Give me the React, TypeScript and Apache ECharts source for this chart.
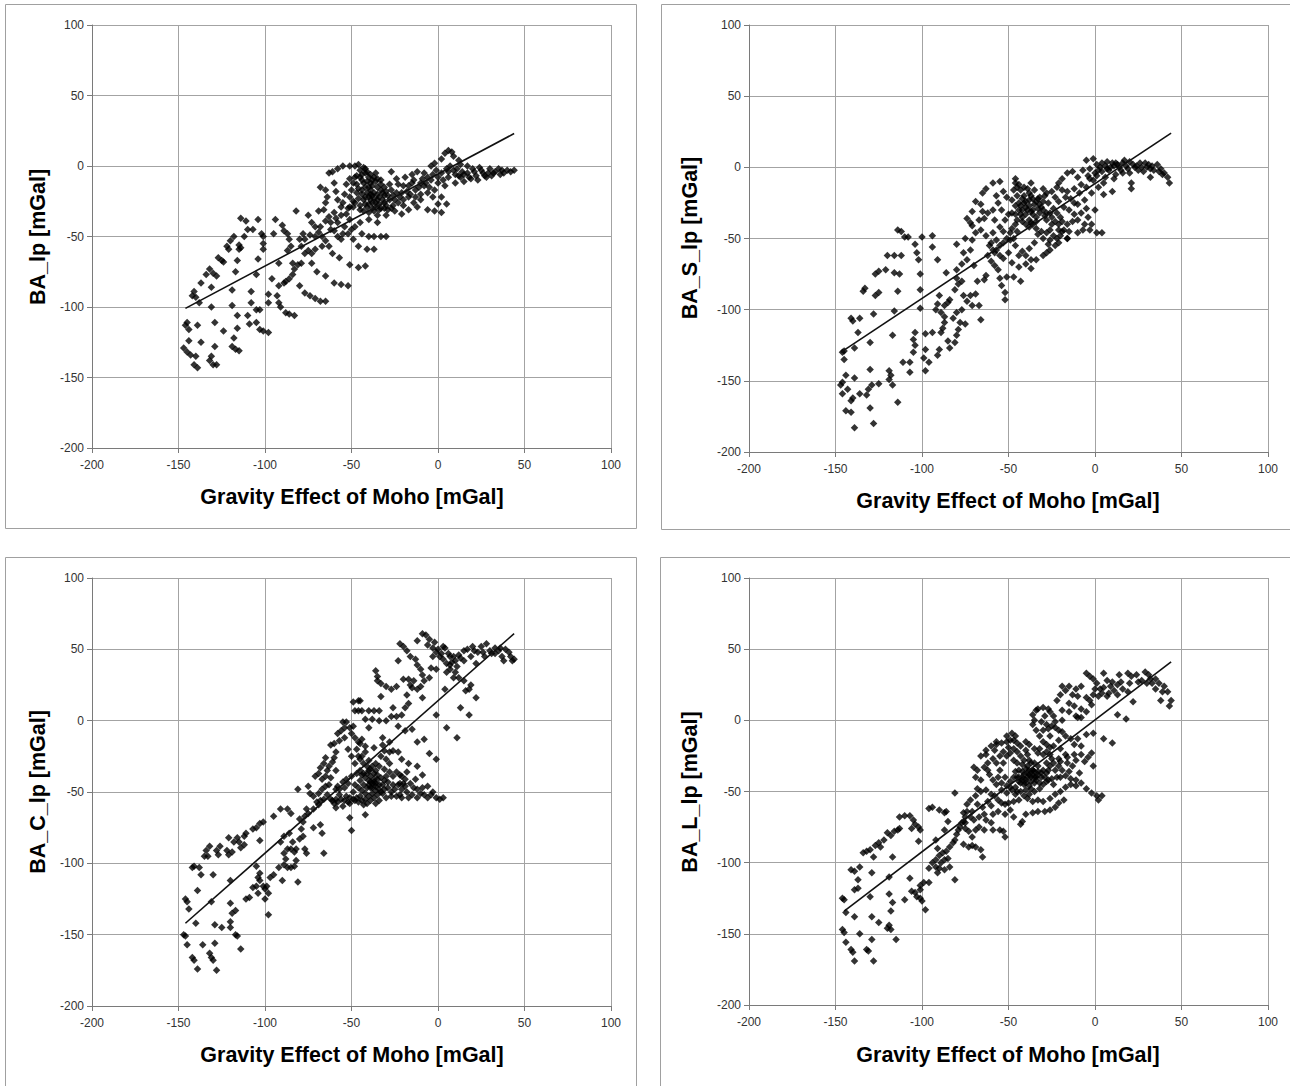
import React, { useEffect, useRef } from "react";
import * as echarts from "echarts";

const X_MIN = -200;
const X_MAX = 100;
const Y_MIN = -200;
const Y_MAX = 100;
const STEP = 50;

const xTitle = "Gravity Effect of Moho [mGal]";
const yTitles = ["BA_lp [mGal]", "BA_S_lp [mGal]", "BA_C_lp [mGal]", "BA_L_lp [mGal]"];

// Panel 1: BA_lp vs gravity effect of Moho
const baLp: number[][] = [
  [-145,-111],[-146,-113],[-144,-116],[-147,-129],[-145,-132],[-143,-134],[-141,-141],[-139,-143],[-140,-135],[-144,-124],[-137,-125],[-139,-113],[-131,-135],[-132,-138],[-130,-141],[-128,-141],[-129,-128],[-124,-117],[-129,-111],[-131,-100],[-138,-97],
  [-142,-92],[-141,-89],[-140,-93],[-137,-83],[-134,-77],[-132,-73],[-130,-76],[-128,-78],[-131,-86],[-127,-65],[-125,-67],[-124,-68],[-121,-59],[-120,-53],[-118,-50],[-122,-57],[-115,-56],[-114,-58],[-114,-37],[-111,-39],[-110,-45],[-112,-50],[-115,-59],[-116,-67],[-117,-75],[-119,-88],[-119,-99],[-116,-106],[-116,-115],[-118,-122],[-119,-128],[-117,-130],[-115,-131],
  [-104,-38],[-107,-45],[-102,-48],[-101,-50],[-101,-55],[-101,-59],[-104,-66],[-105,-77],[-108,-89],[-108,-97],[-105,-102],[-103,-102],[-105,-111],[-103,-116],[-101,-117],[-98,-118],[-110,-106],[-109,-112],
  [-98,-91],[-98,-97],[-96,-80],[-93,-92],[-92,-97],[-91,-100],[-88,-104],[-86,-105],[-83,-106],[-92,-85],[-89,-83],[-88,-82],[-86,-80],[-84,-77],[-83,-73],[-84,-69],[-81,-70],[-79,-69],[-80,-85],[-77,-90],[-74,-92],[-71,-94],[-68,-96],[-65,-96],[-94,-38],[-90,-42],[-89,-46],[-87,-48],[-86,-52],[-85,-57],[-87,-60],[-92,-69],[-95,-48],
  [-82,-32],[-78,-48],[-79,-57],[-77,-62],[-75,-60],[-73,-62],[-73,-69],[-70,-75],[-65,-78],[-60,-83],[-56,-84],[-52,-85],[-71,-59],[-67,-57],[-63,-57],[-61,-62],[-57,-65],[-51,-70],[-46,-72],[-42,-71],[-75,-35],[-73,-40],[-71,-43],[-69,-47],[-67,-50],[-65,-53],[-68,-15],[-65,-17],[-64,-22],[-65,-26],[-66,-31],[-69,-32],[-63,-5],[-61,-4],[-58,-2],[-55,0],[-51,0],[-48,0],[-60,-12],[-59,-18],[-58,-24],[-56,-29],[-53,-34],[-51,-38],[-48,-43],[-44,-48],[-40,-50],[-37,-50],[-33,-50],[-30,-50],[-46,-57],[-41,-59],[-37,-59],[-62,-40],[-59,-37],[-56,-35],[-51,-29],[-49,-25],
  [-80,-52],[-77,-52],[-74,-49],[-71,-50],[-68,-43],[-65,-39],[-63,-36],[-60,-33],[-58,-40],[-54,-43],[-62,-45],[-52,-48],[-49,-52],[-56,-52],
  [-46,1],[-45,-3],[-42,-5],[-40,-8],[-38,-10],[-44,-10],[-47,-13],[-42,-15],[-39,-17],[-37,-19],[-34,-22],[-32,-24],[-40,-22],[-43,-24],[-45,-28],[-41,-29],[-38,-26],[-36,-29],[-33,-30],[-30,-28],[-29,-31],[-37,-32],[-40,-33],[-47,-19],[-50,-17],[-48,-8],[-36,-5],[-33,-10],[-31,-15],[-35,-15],[-38,-14],[-41,-19],[-44,-17],[-46,-23],[-39,-24],[-35,-24],[-32,-19],[-29,-21],[-49,-29],[-51,-22],[-43,-32],[-35,-35],[-42,-2],[-39,-12],[-36,-11],[-44,-6],[-40,-27],[-34,-27],[-47,-7],[-38,-21],
  [-43,-1],[-41,-4],[-39,-6],[-37,-8],[-35,-9],[-45,-8],[-43,-12],[-41,-11],[-39,-20],[-37,-23],[-35,-20],[-33,-17],[-31,-21],[-36,-26],[-42,-22],[-44,-20],[-46,-16],[-40,-15],[-38,-30],[-42,-27],[-34,-31],[-31,-30],[-45,-31],[-48,-26],[-49,-12],[-51,-9],[-53,-13],[-54,-20],[-55,-26],[-52,-30],[-30,-35],[-27,-30],[-35,-40],[-40,-38],[-45,-40],[-50,-45],[-55,-48],[-58,-50],[-60,-46],
  [-27,-17],[-23,-13],[-19,-8],[-15,-6],[-12,-4],[-8,-5],[-4,0],[-2,2],[2,5],[4,9],[6,11],[8,10],[9,7],[12,4],[13,1],[2,-5],[6,-8],[10,-6],[13,-8],[17,-5],[21,-4],[25,-3],[29,-5],[33,-4],[37,-3],[42,-4],[38,-5],[31,-7],[27,-7],[23,-10],[19,-9],[15,-11],[10,-12],[4,-14],[-2,-17],[-10,-20],[-17,-22],[-25,-24],[-31,-26],[-25,-32],[-21,-34],[-17,-31],[-12,-29],[-6,-31],[-2,-32],[2,-33],[-10,-12],[-4,-10],[0,-8],[-21,-19],[-13,-17],[-23,-26],[-17,-14],[-15,-12],[-10,-24],[-6,-19],[2,-22],[7,0],[11,-2],[17,0],[24,-1],[30,-2],[35,-2],[44,-3],[20,-2],[14,-4],[5,-2],[-1,-3],[-6,-8],[-14,-10],[-20,-14],[-26,-21],[-8,-14],[-3,-22],[-14,-26],[-20,-28],[5,-27],[0,-27],[-28,-13],[-24,-9],[-27,-4],
  [-33,-13],[-30,-18],[-28,-24],[-26,-28],[-24,-19],[-22,-22],[-20,-24],[-18,-18],[-16,-20],[-13,-22],[-11,-15],[-9,-9],[-7,-12],[-5,-15],[-3,-6],[0,-12],[3,-10],[6,-4],[9,-3],[12,-7],[15,-6],[18,-8],[22,-7],[26,-5],[28,-8],[32,-5],[36,-6],[40,-3],
];

// Panel 2: BA_S_lp
const baSLp: number[][] = [
  [-139,-183],[-128,-180],[-144,-171],[-141,-172],[-146,-159],[-141,-164],[-140,-162],[-136,-159],[-132,-160],[-130,-169],[-131,-156],[-129,-153],[-125,-152],[-119,-149],[-118,-146],[-119,-143],[-117,-153],[-114,-165],[-130,-142],[-139,-148],[-144,-146],[-147,-153],[-146,-151],[-143,-156],[-145,-135],[-146,-130],[-145,-129],[-139,-127],[-137,-116],[-130,-123],[-117,-118],[-116,-101],[-114,-87],[-128,-103],[-127,-90],[-125,-88],[-134,-87],[-133,-85],[-141,-106],[-140,-108],[-136,-106],[-127,-75],[-125,-73],[-121,-72],[-116,-74],[-113,-75],[-120,-62],[-116,-62],[-112,-62],[-114,-44],[-112,-45],[-108,-49],[-110,-49],[-104,-54],[-103,-60],[-102,-65],[-101,-75],[-101,-86],[-101,-99],[-104,-116],[-105,-121],[-104,-125],[-107,-137],[-107,-144],[-111,-137],[-100,-49],[-94,-48],[-94,-56],[-91,-65],[-98,-117],[-94,-116],[-98,-128],[-99,-134],[-96,-137],[-98,-143],[-105,-130],
  [-90,-90],[-91,-96],[-92,-100],[-89,-102],[-87,-97],[-85,-95],[-84,-93],[-87,-105],[-87,-109],[-88,-113],[-89,-116],[-90,-128],[-91,-132],[-85,-122],[-84,-127],[-81,-123],[-80,-118],[-79,-114],[-78,-109],[-75,-110],[-82,-106],[-80,-102],[-77,-100],[-76,-90],[-72,-90],[-69,-89],[-66,-107],[-67,-97],[-71,-97],[-74,-94],[-81,-86],[-79,-82],[-80,-78],[-77,-80],[-86,-74],[-80,-72],[-77,-68],[-74,-65],[-76,-60],[-72,-58],[-70,-69],[-68,-80],[-64,-79],[-63,-76],
  [-80,-54],[-75,-50],[-71,-51],[-69,-46],[-66,-44],[-63,-48],[-61,-55],[-59,-58],[-57,-58],[-55,-62],[-53,-64],[-60,-66],[-58,-69],[-56,-72],[-55,-78],[-54,-83],[-52,-88],[-52,-93],[-51,-77],[-47,-77],[-43,-80],[-48,-67],[-44,-70],[-40,-68],[-37,-71],[-37,-65],[-34,-65],[-30,-62],[-28,-60],[-26,-58],[-23,-55],[-21,-53],[-16,-50],[-71,-41],[-72,-39],[-74,-36],[-71,-31],[-69,-24],[-65,-18],[-63,-15],[-59,-11],[-55,-10],[-67,-37],[-64,-36],[-62,-32],[-59,-30],[-58,-37],[-55,-42],[-53,-45],[-59,-46],[-57,-51],[-60,-53],[-51,-50],[-49,-46],[-48,-43],[-46,-40],[-49,-51],[-53,-53],[-52,-37],[-51,-21],[-53,-17],[-54,-30],[-66,-26],[-65,-31],
  [-46,-8],[-46,-11],[-43,-16],[-45,-20],[-44,-25],[-42,-30],[-40,-33],[-38,-37],[-37,-39],[-41,-20],[-38,-23],[-35,-26],[-33,-29],[-32,-32],[-34,-35],[-37,-31],[-40,-28],[-43,-33],[-45,-37],[-42,-38],[-38,-18],[-35,-16],[-32,-21],[-30,-24],[-28,-18],[-30,-15],[-37,-11],[-39,-15],[-44,-12],[-47,-16],[-48,-23],[-46,-27],[-48,-32],[-34,-43],[-31,-45],[-28,-46],[-26,-44],[-30,-50],[-33,-47],[-35,-53],[-38,-57],[-42,-59],[-44,-62],[-40,-62],[-27,-54],[-26,-51],[-41,-25],[-36,-22],[-39,-30],[-34,-38],[-36,-33],[-43,-27],[-31,-28],[-29,-34],
  [-45,-14],[-42,-22],[-40,-24],[-38,-27],[-36,-30],[-34,-24],[-32,-26],[-30,-30],[-28,-32],[-42,-35],[-40,-40],[-38,-42],[-36,-40],[-44,-30],[-46,-33],[-41,-14],[-37,-20],[-33,-22],[-29,-20],[-27,-25],[-25,-35],[-23,-38],[-21,-40],[-24,-48],[-22,-50],[-20,-48],[-18,-44],[-13,-38],[-8,-32],[-4,-35],[-2,-40],[-12,-25],[-14,-22],[-8,-12],[-5,-14],[-55,-55],[-58,-60],[-62,-62],[-50,-60],[-46,-55],[-47,-50],[-45,-45],[-50,-33],[-56,-25],[-57,-20],
  [-24,-29],[-22,-32],[-20,-35],[-19,-38],[-16,-40],[-15,-45],[-10,-46],[-7,-44],[-3,-44],[1,-46],[4,-46],[-6,-40],[-10,-37],[-12,-33],[-15,-30],[-18,-28],[-21,-24],[-23,-21],[-25,-17],[-22,-14],[-21,-11],[-19,-8],[-16,-4],[-13,-3],[-10,-7],[-7,-2],[-3,-1],[-5,5],[-1,6],[1,2],[2,-2],[4,3],[7,4],[10,3],[13,2],[16,3],[20,4],[22,2],[25,-2],[29,3],[32,-1],[34,-2],[36,2],[39,-5],[42,-7],[43,-11],[32,-7],[28,-3],[6,-7],[5,-11],[10,-17],[5,-19],[21,-11],[21,-15],[16,-4],[12,-5],[8,-2],[-1,-9],[2,-14],[-2,-18],[-6,-23],[-10,-26],[-5,-29],[0,-30],[-9,-18],[-12,-15],[-16,-17],[-17,-21],[-19,-16],[-26,-32],[-28,-37],[-25,-40],[-21,-44],[-19,-45],[-16,-50],[3,0],[6,1],[9,0],[14,0],[18,1],[24,1],[27,0],[31,2],[38,-1],[40,-4],[11,-8],[0,-4],[-4,-6],
  [-3,-8],[1,-6],[4,-3],[7,-1],[11,1],[15,-2],[19,-1],[23,0],[26,3],[30,0],[33,1],[37,-3],[12,3],[17,5],[20,-4],
];

// Panel 3: BA_C_lp
const baCLp: number[][] = [
  [-147,-150],[-146,-151],[-145,-157],[-142,-166],[-141,-168],[-139,-174],[-136,-157],[-132,-163],[-131,-166],[-130,-168],[-128,-175],[-129,-156],[-129,-143],[-125,-145],[-120,-141],[-120,-145],[-117,-150],[-116,-151],[-114,-160],[-119,-135],[-117,-133],[-120,-128],[-140,-142],[-146,-125],[-145,-127],[-144,-132],[-139,-119],[-142,-103],[-141,-102],[-138,-103],[-137,-108],[-130,-108],[-131,-127],[-134,-91],[-132,-88],[-135,-95],[-133,-95],[-128,-91],[-127,-94],[-126,-88],[-122,-91],[-121,-94],[-119,-92],[-121,-82],[-118,-85],[-116,-82],[-115,-85],[-114,-89],[-112,-87],[-112,-81],[-111,-79],[-107,-76],[-105,-75],[-103,-72],[-101,-71],[-103,-84],[-120,-112],[-105,-102],[-109,-124],[-111,-125],[-107,-117],[-105,-116],[-104,-110],[-103,-112],[-101,-116],[-100,-118],[-99,-116],[-98,-121],[-100,-125],[-98,-136],[-104,-121],[-103,-107],[-97,-110],[-95,-108],[-92,-103],[-90,-112],[-89,-101],[-88,-97],[-87,-103],[-85,-103],[-83,-102],[-82,-98],[-81,-113],[-89,-93],[-87,-90],[-91,-85],[-89,-81],[-86,-79],[-84,-85],[-85,-90],[-83,-92],[-82,-90],[-80,-83],[-78,-81],[-79,-76],[-77,-90],[-76,-93],[-80,-69],[-78,-71],[-77,-67],[-75,-65],[-72,-62],[-72,-75],[-68,-73],[-67,-79],[-66,-93],[-76,-62],[-95,-67],[-91,-62],[-87,-62],[-85,-65],[-81,-48],
  [-75,-46],[-74,-51],[-72,-53],[-70,-57],[-69,-59],[-68,-56],[-69,-51],[-67,-48],[-65,-46],[-63,-45],[-67,-41],[-65,-39],[-64,-35],[-63,-32],[-61,-29],[-60,-26],[-59,-22],[-68,-33],[-66,-30],[-65,-26],[-69,-37],[-71,-39],[-62,-17],[-60,-16],[-58,-9],[-56,-7],[-54,-5],[-55,-1],[-53,-1],[-49,-4],[-51,-5],[-50,-9],[-48,-12],[-46,-15],[-45,-16],[-44,-13],[-42,-18],[-48,7],[-46,7],[-44,7],[-49,13],[-46,14],[-45,14],[-40,7],[-37,7],[-34,7],[-42,1],[-40,-5],[-38,1],[-34,0],[-32,-12],[-37,-19],[-47,-20],[-46,-25],[-45,-27],[-43,-30],[-41,-32],[-39,-34],[-37,-37],[-45,-35],[-47,-37],[-50,-39],[-53,-41],[-55,-43],[-58,-46],[-59,-48],[-57,-52],[-59,-55],[-61,-56],[-59,-61],[-55,-60],[-51,-58],[-48,-56],[-45,-53],[-42,-51],[-39,-47],[-37,-43],[-35,-41],[-40,-42],[-43,-45],[-46,-47],[-49,-50],[-53,-53],[-52,-57],[-47,-54],[-43,-59],[-42,-66],[-36,-58],[-34,-56],[-51,-68],[-50,-77],
  [-44,-38],[-42,-40],[-40,-45],[-38,-47],[-36,-44],[-34,-45],[-33,-50],[-37,-54],[-39,-56],[-41,-58],[-44,-56],[-46,-57],[-49,-55],[-51,-54],[-54,-56],[-56,-55],[-58,-57],[-60,-58],[-62,-55],[-64,-52],[-66,-55],[-57,-48],[-54,-47],[-52,-44],[-48,-45],[-45,-42],[-43,-37],[-40,-35],[-38,-32],[-36,-30],[-35,-38],[-31,-42],[-29,-47],[-27,-50],[-25,-48],[-23,-45],[-20,-44],[-18,-50],[-15,-52],[-14,-47],[-10,-51],[-6,-54],[-3,-50],[-44,-25],[-42,-22],[-40,-28],[-48,-30],[-50,-25],[-52,-20],[-54,-12],[-57,-14],[-59,-35],[-62,-40],
  [-41,-37],[-39,-39],[-37,-41],[-36,-46],[-38,-51],[-34,-48],[-32,-45],[-32,-51],[-35,-52],[-40,-53],[-41,-47],[-36,-35],[-34,-32],[-31,-34],[-30,-39],[-29,-43],[-28,-36],[-26,-39],[-24,-36],[-22,-38],[-21,-39],[-18,-36],[-17,-30],[-12,-32],[-9,-38],[-13,-41],[-16,-44],[-19,-46],[-21,-48],[-22,-52],[-24,-53],[-27,-53],[-30,-54],[-21,-54],[-17,-54],[-12,-54],[-8,-52],[-4,-52],[-1,-54],[1,-55],[3,-54],[-6,-46],[-9,-47],[-12,-48],[-22,-44],[-19,-41],[-28,-30],[-30,-27],[-33,-25],[-31,-21],[-28,-22],[-26,-21],[-23,-22],[-28,-15],[-32,-17],[-21,-27],[-38,-44],[-33,-40],[-36,-49],[-39,-43],[-44,-49],[-31,-48],[-42,-55],[-26,-45],
  [-30,0],[-27,3],[-24,3],[-21,4],[-19,9],[-17,12],[-18,18],[-15,23],[-12,22],[-9,16],[-16,25],[-17,29],[-20,29],[-24,24],[-27,22],[-30,24],[-33,26],[-35,28],[-35,31],[-36,35],[-33,17],[-26,9],[-23,-4],[-19,-7],[-15,-6],[-12,-15],[-8,-13],[-5,-23],[-1,-27],[-23,42],[-22,54],[-20,52],[-18,49],[-16,45],[-13,43],[-12,39],[-10,36],[-9,32],[-8,28],[-12,56],[-9,61],[-7,60],[-5,57],[-3,51],[-1,48],[1,45],[3,43],[5,40],[7,36],[10,34],[-3,45],[-4,37],[-1,36],[5,34],[9,30],[12,30],[15,28],[19,25],[22,16],[18,22],[16,21],[13,9],[18,4],[-1,4],[5,-5],[11,-12],[4,22],[3,52],[4,51],[6,47],[9,45],[10,42],[13,44],[15,49],[17,50],[19,45],[21,49],[23,48],[25,52],[28,54],[30,49],[33,51],[35,49],[37,45],[38,42],[41,48],[43,42],[44,43],[27,45],[15,42],[22,40],[7,39],[8,41],[11,38],[31,47],[36,51],
  [-6,53],[-2,55],[0,50],[2,47],[7,45],[12,46],[20,52],[26,48],[33,47],[39,50],[42,45],[-14,28],[-10,24],[-5,30],
];

// Panel 4: BA_L_lp
const baLLp: number[][] = [
  [-146,-125],[-145,-126],[-146,-147],[-145,-149],[-144,-156],[-141,-161],[-140,-163],[-139,-169],[-132,-161],[-131,-162],[-129,-154],[-128,-169],[-136,-150],[-139,-138],[-144,-135],[-137,-118],[-130,-124],[-129,-138],[-125,-142],[-120,-146],[-119,-144],[-118,-147],[-115,-154],[-119,-122],[-117,-128],[-118,-134],[-139,-119],[-141,-105],[-139,-106],[-136,-103],[-137,-112],[-129,-107],[-128,-96],[-134,-93],[-132,-92],[-130,-91],[-127,-88],[-125,-86],[-122,-84],[-120,-79],[-118,-81],[-116,-78],[-114,-77],[-113,-68],[-110,-67],[-107,-67],[-105,-70],[-104,-73],[-102,-75],[-101,-77],[-113,-76],[-106,-76],[-117,-96],[-119,-110],[-124,-89],[-102,-85],[-107,-111],[-106,-120],[-104,-121],[-103,-124],[-101,-125],[-98,-133],[-99,-114],[-101,-116],[-101,-119],[-110,-126],[-100,-127],[-96,-114],[-96,-104],[-94,-100],[-92,-103],[-90,-104],[-91,-107],[-89,-100],[-87,-98],[-85,-97],[-84,-103],[-81,-112],[-87,-105],[-92,-98],[-90,-95],[-88,-93],[-86,-92],[-84,-89],[-82,-86],[-81,-84],[-80,-80],[-79,-77],[-78,-75],[-77,-72],[-76,-71],[-92,-84],[-91,-90],[-87,-77],[-76,-87],[-73,-89],[-71,-88],[-69,-89],[-66,-91],[-65,-96],[-71,-82],[-69,-77],[-67,-75],[-73,-78],[-75,-76],[-75,-72],[-75,-68],[-74,-64],[-96,-62],[-94,-61],[-90,-63],[-87,-65],[-85,-71],[-86,-64],[-81,-51],[-74,-59],[-76,-65],[-71,-64],
  [-72,-56],[-69,-53],[-66,-50],[-63,-49],[-60,-52],[-58,-53],[-56,-56],[-54,-58],[-52,-59],[-50,-58],[-47,-57],[-44,-56],[-41,-53],[-38,-52],[-35,-50],[-32,-48],[-30,-45],[-28,-43],[-25,-41],[-22,-40],[-20,-40],[-17,-39],[-14,-41],[-11,-42],[-8,-44],[-5,-48],[-2,-51],[1,-53],[4,-53],[2,-56],[-18,-56],[-21,-58],[-23,-61],[-26,-63],[-29,-64],[-33,-64],[-36,-65],[-40,-66],[-42,-71],[-43,-73],[-47,-68],[-49,-63],[-52,-66],[-53,-78],[-52,-82],[-55,-77],[-59,-77],[-64,-77],[-63,-70],[-59,-66],[-56,-64],[-65,-61],[-68,-59],[-68,-48],[-66,-42],[-69,-40],[-70,-33],[-68,-35],[-64,-33],[-62,-30],[-66,-25],[-63,-24],[-59,-27],[-58,-21],[-57,-17],[-54,-16],[-51,-15],[-49,-14],[-47,-14],[-45,-16],[-43,-18],[-40,-21],[-39,-24],[-38,-28],[-37,-30],[-36,-35],[-35,-40],[-40,-42],[-43,-44],[-46,-47],[-48,-49],[-51,-51],[-54,-49],[-57,-45],[-59,-42],[-61,-38],[-62,-35],[-55,-35],[-53,-30],[-51,-25],[-49,-23],[-47,-28],[-45,-30],[-44,-35],[-42,-40],[-47,-40],[-49,-43],[-52,-40],
  [-42,-36],[-39,-37],[-38,-38],[-39,-40],[-37,-43],[-35,-44],[-34,-40],[-36,-35],[-33,-36],[-41,-45],[-38,-46],[-44,-43],[-42,-31],[-39,-32],[-35,-30],[-33,-32],[-30,-35],[-28,-37],[-27,-35],[-28,-30],[-26,-32],[-23,-35],[-21,-32],[-19,-35],[-16,-30],[-13,-32],[-11,-28],[-6,-29],[-1,-32],[-9,-37],[-26,-24],[-26,-19],[-28,-17],[-32,-11],[-34,-7],[-36,-3],[-35,0],[-36,4],[-34,7],[-33,8],[-30,9],[-27,8],[-26,6],[-24,3],[-25,-4],[-23,-5],[-21,-7],[-19,-8],[-19,7],[-15,6],[-11,3],[-10,2],[-8,2],[-5,6],[-14,-13],[-10,-13],[-5,-10],[-1,-9],[5,-13],[10,-16],[-1,18],[-2,11],[-5,16],[-10,17],[-13,18],[-17,21],[-19,24],[-20,18],[-22,14],[-15,24],[-11,22],[-8,24],[-5,33],[-3,31],[-1,29],[1,26],[3,22],[4,19],[5,33],[7,28],[10,27],[11,21],[7,17],[13,25],[16,22],[19,20],[22,13],[13,4],[18,1],[13,18],[14,32],[19,33],[21,31],[24,32],[27,28],[29,34],[31,32],[33,26],[35,22],[37,26],[39,20],[42,20],[44,14],[43,10],[38,14],[32,29],[2,17],[8,19],
  [-19,0],[-23,-1],[-28,-3],[-30,-7],[-26,-11],[-21,-14],[-17,-11],[-12,-17],[-8,-18],[-17,-24],[-21,-27],[-25,-27],[-30,-24],[-33,-23],[-35,-20],[-38,-17],[-40,-15],[-46,-11],[-48,-9],[-51,-11],[-57,-15],[-60,-18],[-63,-21],[-41,-38],[-37,-48],[-31,-40],[-40,-49],[-45,-50],[-24,-45],[-15,-36],[-45,-40],
  [-40,-34],[-38,-35],[-36,-38],[-34,-42],[-32,-44],[-37,-40],[-35,-36],[-33,-38],[-31,-37],[-29,-40],[-27,-42],[-40,-44],[-42,-42],[-44,-40],[-46,-36],[-41,-28],[-43,-25],[-45,-22],[-47,-20],[-50,-19],[-53,-22],[-55,-25],[-57,-30],[-56,-40],[-54,-44],[-51,-46],[-49,-47],[-46,-52],[-43,-50],[-39,-55],[-36,-57],[-33,-56],[-30,-57],[-26,-55],[-23,-52],[-20,-50],[-17,-47],[-14,-45],[-11,-46],[-24,-30],[-20,-29],[-16,-26],[-12,-24],[-8,-24],[-4,-26],[-2,-23],[-30,-15],[-32,-20],[-28,-22],[-24,-18],[-20,-20],[-29,3],[-31,-1],[-27,-6],[-15,12],[-12,10],[-8,8],[-3,14],[0,22],[5,23],[9,24],[15,27],[20,26],[25,27],[30,26],[35,29],[40,24],[-60,-60],[-62,-57],[-64,-66],[-67,-68],[-70,-70],[-72,-68],[-60,-72],
];

// Linear trend lines (end points) for each panel
const trendLp: number[][] = [[-146, -101], [44, 23]];
const trendSLp: number[][] = [[-147, -130], [44, 24]];
const trendCLp: number[][] = [[-146, -142], [44, 61]];
const trendLLp: number[][] = [[-145, -134], [44, 41]];

const seriesData = [baLp, baSLp, baCLp, baLLp];
const trendData = [trendLp, trendSLp, trendCLp, trendLLp];

// Layout (pixels) for each panel
const layouts = [
  { left: 92, top: 25, width: 519, height: 423, frame: [5.5, 4.5, 631, 524], xt: [352, 497], yt: [38, 237] },
  { left: 749, top: 25, width: 519, height: 427, frame: [661.5, 4.5, 640, 525], xt: [1008, 501], yt: [690, 238] },
  { left: 92, top: 578, width: 519, height: 428, frame: [5.5, 557.5, 631, 600], xt: [352, 1055], yt: [38, 792] },
  { left: 749, top: 578, width: 519, height: 427, frame: [660.5, 557.5, 640, 600], xt: [1008, 1055], yt: [690, 792] },
];

const FONT = '"Liberation Sans", Arial, Helvetica, sans-serif';

export default function App() {
  const ref = useRef<HTMLDivElement>(null);

  useEffect(() => {
    if (!ref.current) return;
    const chart = echarts.init(ref.current, undefined, { renderer: "svg" });

    const axisCommon = {
      type: "value" as const,
      interval: STEP,
      axisLine: { show: true, onZero: false, lineStyle: { color: "#7a7a7a", width: 1 } },
      axisTick: { show: true, inside: false, length: 5, lineStyle: { color: "#7a7a7a", width: 1 } },
      splitLine: { show: true, lineStyle: { color: "#a3a3a3", width: 1 } },
    };

    const grid = layouts.map((l) => ({ left: l.left, top: l.top, width: l.width, height: l.height, containLabel: false }));

    const xAxis = layouts.map((_, i) => ({
      ...axisCommon,
      gridIndex: i,
      min: X_MIN,
      max: X_MAX,
      axisLabel: { show: true, margin: 11, fontSize: 12, color: "#333", fontFamily: FONT, showMinLabel: true, showMaxLabel: true },
    }));

    const yAxis = layouts.map((_, i) => ({
      ...axisCommon,
      gridIndex: i,
      min: Y_MIN,
      max: Y_MAX,
      axisLabel: { show: true, margin: 8, fontSize: 12, color: "#333", fontFamily: FONT, showMinLabel: true, showMaxLabel: true },
    }));

    const series: any[] = [];
    seriesData.forEach((d, i) => {
      series.push({
        type: "scatter",
        xAxisIndex: i,
        yAxisIndex: i,
        data: d,
        symbol: "diamond",
        symbolSize: 7.5,
        itemStyle: { color: "#000" },
        silent: true,
        z: 2,
      });
      series.push({
        type: "line",
        xAxisIndex: i,
        yAxisIndex: i,
        data: trendData[i],
        symbol: "none",
        showSymbol: false,
        lineStyle: { color: "#111", width: 1.6 },
        silent: true,
        z: 3,
      });
    });

    const graphic: any[] = [];
    layouts.forEach((l, i) => {
      graphic.push({
        type: "rect",
        shape: { x: l.frame[0], y: l.frame[1], width: l.frame[2], height: l.frame[3] },
        style: { fill: "none", stroke: "#a0a0a0", lineWidth: 1 },
        z: -10,
        silent: true,
      });
      graphic.push({
        type: "text",
        x: l.xt[0],
        y: l.xt[1],
        style: {
          text: xTitle,
          fontSize: 21.5,
          fontWeight: "bold",
          fontFamily: FONT,
          fill: "#000",
          align: "center",
          verticalAlign: "middle",
          textAlign: "center",
          textVerticalAlign: "middle",
        },
        silent: true,
      });
      graphic.push({
        type: "text",
        x: l.yt[0],
        y: l.yt[1],
        rotation: Math.PI / 2,
        style: {
          text: yTitles[i],
          fontSize: 21.5,
          fontWeight: "bold",
          fontFamily: FONT,
          fill: "#000",
          align: "center",
          verticalAlign: "middle",
          textAlign: "center",
          textVerticalAlign: "middle",
        },
        silent: true,
      });
    });

    chart.setOption({
      animation: false,
      backgroundColor: "#fff",
      grid,
      xAxis,
      yAxis,
      series,
      graphic,
    });

    return () => {
      chart.dispose();
    };
  }, []);

  return (
    <div
      ref={ref}
      style={{ position: "absolute", left: 0, top: 0, width: 1290, height: 1086 }}
    />
  );
}
